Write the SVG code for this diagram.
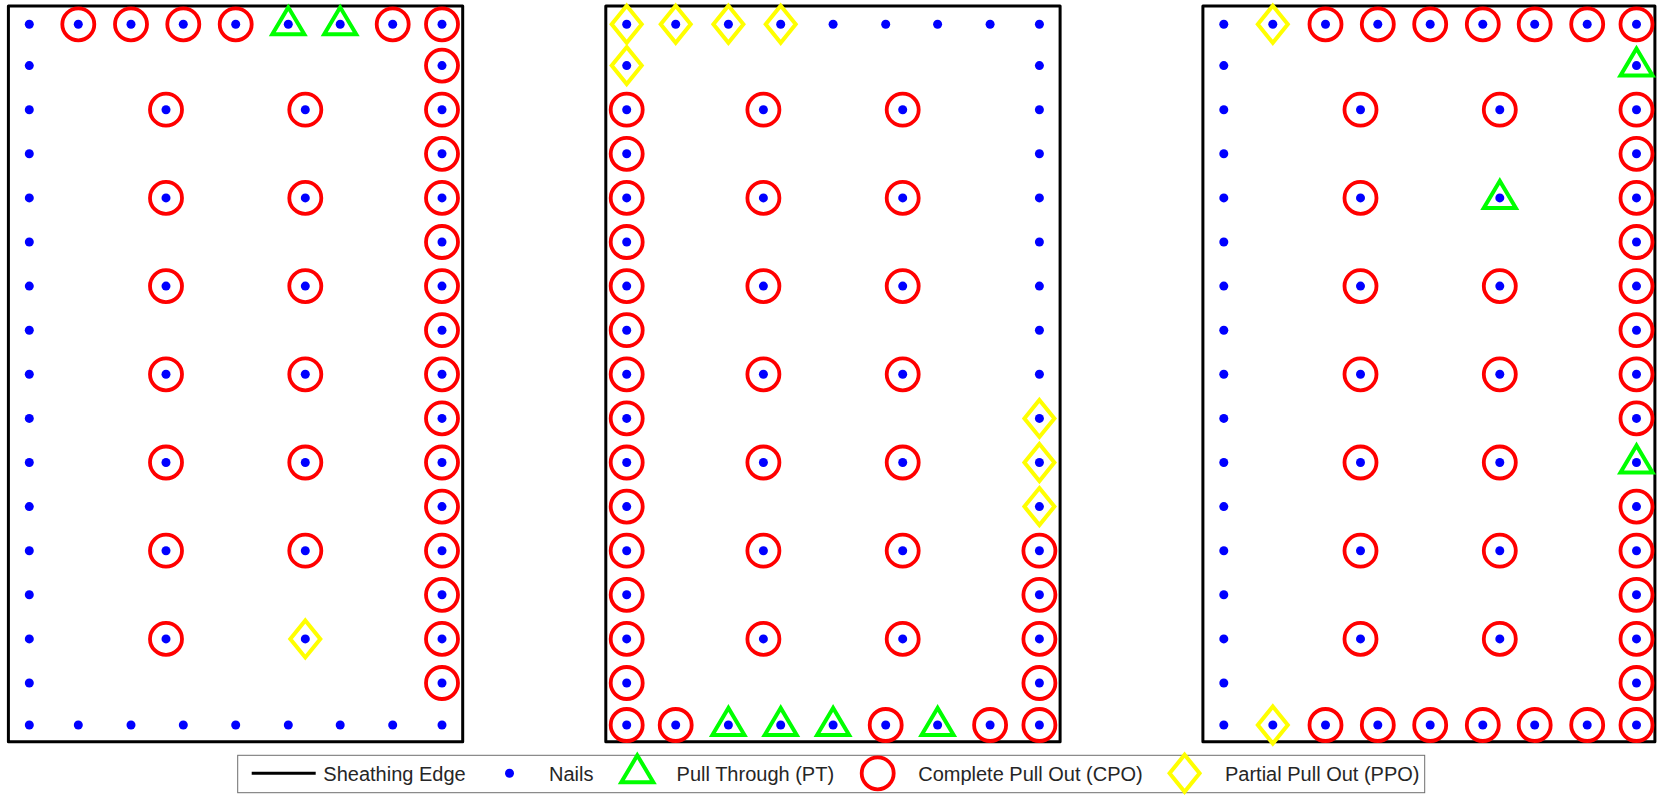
<svg xmlns="http://www.w3.org/2000/svg" xmlns:xlink="http://www.w3.org/1999/xlink" width="1657" height="796" viewBox="0 0 1657 796">
<style>
.edge{fill:none;stroke:#000;stroke-width:3;stroke-linejoin:round}
.cpo{fill:none;stroke:#ff0000;stroke-width:3.8}
.pt{fill:none;stroke:#00ff00;stroke-width:4;stroke-linejoin:miter}
.ppo{fill:none;stroke:#ffff00;stroke-width:4;stroke-linejoin:miter}
.nail{fill:#0000ff}
.lbl{font-family:"Liberation Sans",Arial,Helvetica,sans-serif;font-size:20px;fill:#262626}
</style>
<defs>
<circle id="n" class="nail" r="4.5"/>
<circle id="c" class="cpo" r="16"/>
<polygon id="t" class="pt" points="0,-17 -16,10 16,10"/>
<polygon id="d" class="ppo" points="0,-18.5 15,0 0,18.5 -15,0"/>
<g id="nails">
<use href="#n" x="29.3" y="24.3"/><use href="#n" x="29.3" y="65.6"/><use href="#n" x="29.3" y="109.7"/><use href="#n" x="29.3" y="153.8"/><use href="#n" x="29.3" y="197.9"/><use href="#n" x="29.3" y="242"/><use href="#n" x="29.3" y="286.1"/><use href="#n" x="29.3" y="330.2"/><use href="#n" x="29.3" y="374.3"/><use href="#n" x="29.3" y="418.4"/><use href="#n" x="29.3" y="462.5"/><use href="#n" x="29.3" y="506.6"/><use href="#n" x="29.3" y="550.7"/><use href="#n" x="29.3" y="594.8"/><use href="#n" x="29.3" y="638.9"/><use href="#n" x="29.3" y="683"/><use href="#n" x="29.3" y="725"/>
<use href="#n" x="442" y="24.3"/><use href="#n" x="442" y="65.6"/><use href="#n" x="442" y="109.7"/><use href="#n" x="442" y="153.8"/><use href="#n" x="442" y="197.9"/><use href="#n" x="442" y="242"/><use href="#n" x="442" y="286.1"/><use href="#n" x="442" y="330.2"/><use href="#n" x="442" y="374.3"/><use href="#n" x="442" y="418.4"/><use href="#n" x="442" y="462.5"/><use href="#n" x="442" y="506.6"/><use href="#n" x="442" y="550.7"/><use href="#n" x="442" y="594.8"/><use href="#n" x="442" y="638.9"/><use href="#n" x="442" y="683"/><use href="#n" x="442" y="725"/>
<use href="#n" x="78.3" y="24.3"/><use href="#n" x="131" y="24.3"/><use href="#n" x="183.3" y="24.3"/><use href="#n" x="235.7" y="24.3"/><use href="#n" x="288.3" y="24.3"/><use href="#n" x="340.2" y="24.3"/><use href="#n" x="392.7" y="24.3"/>
<use href="#n" x="78.3" y="725"/><use href="#n" x="131" y="725"/><use href="#n" x="183.3" y="725"/><use href="#n" x="235.7" y="725"/><use href="#n" x="288.3" y="725"/><use href="#n" x="340.2" y="725"/><use href="#n" x="392.7" y="725"/>
<use href="#n" x="166" y="109.7"/><use href="#n" x="166" y="197.9"/><use href="#n" x="166" y="286.1"/><use href="#n" x="166" y="374.3"/><use href="#n" x="166" y="462.5"/><use href="#n" x="166" y="550.7"/><use href="#n" x="166" y="638.9"/>
<use href="#n" x="305.3" y="109.7"/><use href="#n" x="305.3" y="197.9"/><use href="#n" x="305.3" y="286.1"/><use href="#n" x="305.3" y="374.3"/><use href="#n" x="305.3" y="462.5"/><use href="#n" x="305.3" y="550.7"/><use href="#n" x="305.3" y="638.9"/>
</g>
</defs>
<rect width="1657" height="796" fill="#fff"/>

<g id="panel1">
<rect class="edge" x="8.4" y="6" width="454.3" height="735.7"/>
<g id="panel1-cpo">
<use href="#c" x="78.3" y="24.3"/><use href="#c" x="131" y="24.3"/><use href="#c" x="183.3" y="24.3"/><use href="#c" x="235.7" y="24.3"/><use href="#c" x="392.7" y="24.3"/><use href="#c" x="442" y="24.3"/>
<use href="#c" x="442" y="65.6"/><use href="#c" x="442" y="109.7"/><use href="#c" x="442" y="153.8"/><use href="#c" x="442" y="197.9"/><use href="#c" x="442" y="242"/><use href="#c" x="442" y="286.1"/><use href="#c" x="442" y="330.2"/><use href="#c" x="442" y="374.3"/><use href="#c" x="442" y="418.4"/><use href="#c" x="442" y="462.5"/><use href="#c" x="442" y="506.6"/><use href="#c" x="442" y="550.7"/><use href="#c" x="442" y="594.8"/><use href="#c" x="442" y="638.9"/><use href="#c" x="442" y="683"/>
<use href="#c" x="166" y="109.7"/><use href="#c" x="166" y="197.9"/><use href="#c" x="166" y="286.1"/><use href="#c" x="166" y="374.3"/><use href="#c" x="166" y="462.5"/><use href="#c" x="166" y="550.7"/><use href="#c" x="166" y="638.9"/>
<use href="#c" x="305.3" y="109.7"/><use href="#c" x="305.3" y="197.9"/><use href="#c" x="305.3" y="286.1"/><use href="#c" x="305.3" y="374.3"/><use href="#c" x="305.3" y="462.5"/><use href="#c" x="305.3" y="550.7"/>
</g>
<g id="panel1-pt"><use href="#t" x="288.3" y="24.3"/><use href="#t" x="340.2" y="24.3"/></g>
<g id="panel1-ppo"><use href="#d" x="305.3" y="638.9"/></g>
<use href="#nails"/>
</g>

<g id="panel2" transform="translate(597.4,0)">
<rect class="edge" x="8.4" y="6" width="454.3" height="735.7"/>
<g id="panel2-cpo">
<use href="#c" x="29.3" y="109.7"/><use href="#c" x="29.3" y="153.8"/><use href="#c" x="29.3" y="197.9"/><use href="#c" x="29.3" y="242"/><use href="#c" x="29.3" y="286.1"/><use href="#c" x="29.3" y="330.2"/><use href="#c" x="29.3" y="374.3"/><use href="#c" x="29.3" y="418.4"/><use href="#c" x="29.3" y="462.5"/><use href="#c" x="29.3" y="506.6"/><use href="#c" x="29.3" y="550.7"/><use href="#c" x="29.3" y="594.8"/><use href="#c" x="29.3" y="638.9"/><use href="#c" x="29.3" y="683"/><use href="#c" x="29.3" y="725"/>
<use href="#c" x="442" y="550.7"/><use href="#c" x="442" y="594.8"/><use href="#c" x="442" y="638.9"/><use href="#c" x="442" y="683"/><use href="#c" x="442" y="725"/>
<use href="#c" x="78.3" y="725"/><use href="#c" x="288.3" y="725"/><use href="#c" x="392.7" y="725"/>
<use href="#c" x="166" y="109.7"/><use href="#c" x="166" y="197.9"/><use href="#c" x="166" y="286.1"/><use href="#c" x="166" y="374.3"/><use href="#c" x="166" y="462.5"/><use href="#c" x="166" y="550.7"/><use href="#c" x="166" y="638.9"/>
<use href="#c" x="305.3" y="109.7"/><use href="#c" x="305.3" y="197.9"/><use href="#c" x="305.3" y="286.1"/><use href="#c" x="305.3" y="374.3"/><use href="#c" x="305.3" y="462.5"/><use href="#c" x="305.3" y="550.7"/><use href="#c" x="305.3" y="638.9"/>
</g>
<g id="panel2-pt"><use href="#t" x="131" y="725"/><use href="#t" x="183.3" y="725"/><use href="#t" x="235.7" y="725"/><use href="#t" x="340.2" y="725"/></g>
<g id="panel2-ppo">
<use href="#d" x="29.3" y="24.3"/><use href="#d" x="78.3" y="24.3"/><use href="#d" x="131" y="24.3"/><use href="#d" x="183.3" y="24.3"/><use href="#d" x="29.3" y="65.6"/>
<use href="#d" x="442" y="418.4"/><use href="#d" x="442" y="462.5"/><use href="#d" x="442" y="506.6"/>
</g>
<use href="#nails"/>
</g>

<g id="panel3" transform="translate(1194.5,0)">
<rect class="edge" x="8.4" y="6" width="452" height="735.7"/>
<g id="panel3-cpo">
<use href="#c" x="131" y="24.3"/><use href="#c" x="183.3" y="24.3"/><use href="#c" x="235.7" y="24.3"/><use href="#c" x="288.3" y="24.3"/><use href="#c" x="340.2" y="24.3"/><use href="#c" x="392.7" y="24.3"/><use href="#c" x="442" y="24.3"/>
<use href="#c" x="442" y="109.7"/><use href="#c" x="442" y="153.8"/><use href="#c" x="442" y="197.9"/><use href="#c" x="442" y="242"/><use href="#c" x="442" y="286.1"/><use href="#c" x="442" y="330.2"/><use href="#c" x="442" y="374.3"/><use href="#c" x="442" y="418.4"/><use href="#c" x="442" y="506.6"/><use href="#c" x="442" y="550.7"/><use href="#c" x="442" y="594.8"/><use href="#c" x="442" y="638.9"/><use href="#c" x="442" y="683"/><use href="#c" x="442" y="725"/>
<use href="#c" x="131" y="725"/><use href="#c" x="183.3" y="725"/><use href="#c" x="235.7" y="725"/><use href="#c" x="288.3" y="725"/><use href="#c" x="340.2" y="725"/><use href="#c" x="392.7" y="725"/>
<use href="#c" x="166" y="109.7"/><use href="#c" x="166" y="197.9"/><use href="#c" x="166" y="286.1"/><use href="#c" x="166" y="374.3"/><use href="#c" x="166" y="462.5"/><use href="#c" x="166" y="550.7"/><use href="#c" x="166" y="638.9"/>
<use href="#c" x="305.3" y="109.7"/><use href="#c" x="305.3" y="286.1"/><use href="#c" x="305.3" y="374.3"/><use href="#c" x="305.3" y="462.5"/><use href="#c" x="305.3" y="550.7"/><use href="#c" x="305.3" y="638.9"/>
</g>
<g id="panel3-pt"><use href="#t" x="442" y="65.6"/><use href="#t" x="442" y="462.5"/><use href="#t" x="305.3" y="197.9"/></g>
<g id="panel3-ppo"><use href="#d" x="78.3" y="24.3"/><use href="#d" x="78.3" y="725"/></g>
<use href="#nails"/>
</g>

<g id="legend">
<rect x="237.7" y="755.3" width="1187" height="37.4" fill="#fff" stroke="#6e6e6e" stroke-width="1"/>
<line x1="251.7" y1="773.3" x2="315.7" y2="773.3" stroke="#000" stroke-width="3"/>
<text class="lbl" x="323.3" y="780.5">Sheathing Edge</text>
<use href="#n" x="509.5" y="773.3"/>
<text class="lbl" x="549" y="780.5">Nails</text>
<use href="#t" x="637.3" y="772.3"/>
<text class="lbl" x="676.6" y="780.5">Pull Through (PT)</text>
<use href="#c" x="877.7" y="773.3"/>
<text class="lbl" x="918.2" y="780.5">Complete Pull Out (CPO)</text>
<use href="#d" x="1184.6" y="773.3"/>
<text class="lbl" x="1225" y="780.5">Partial Pull Out (PPO)</text>
</g>
</svg>
